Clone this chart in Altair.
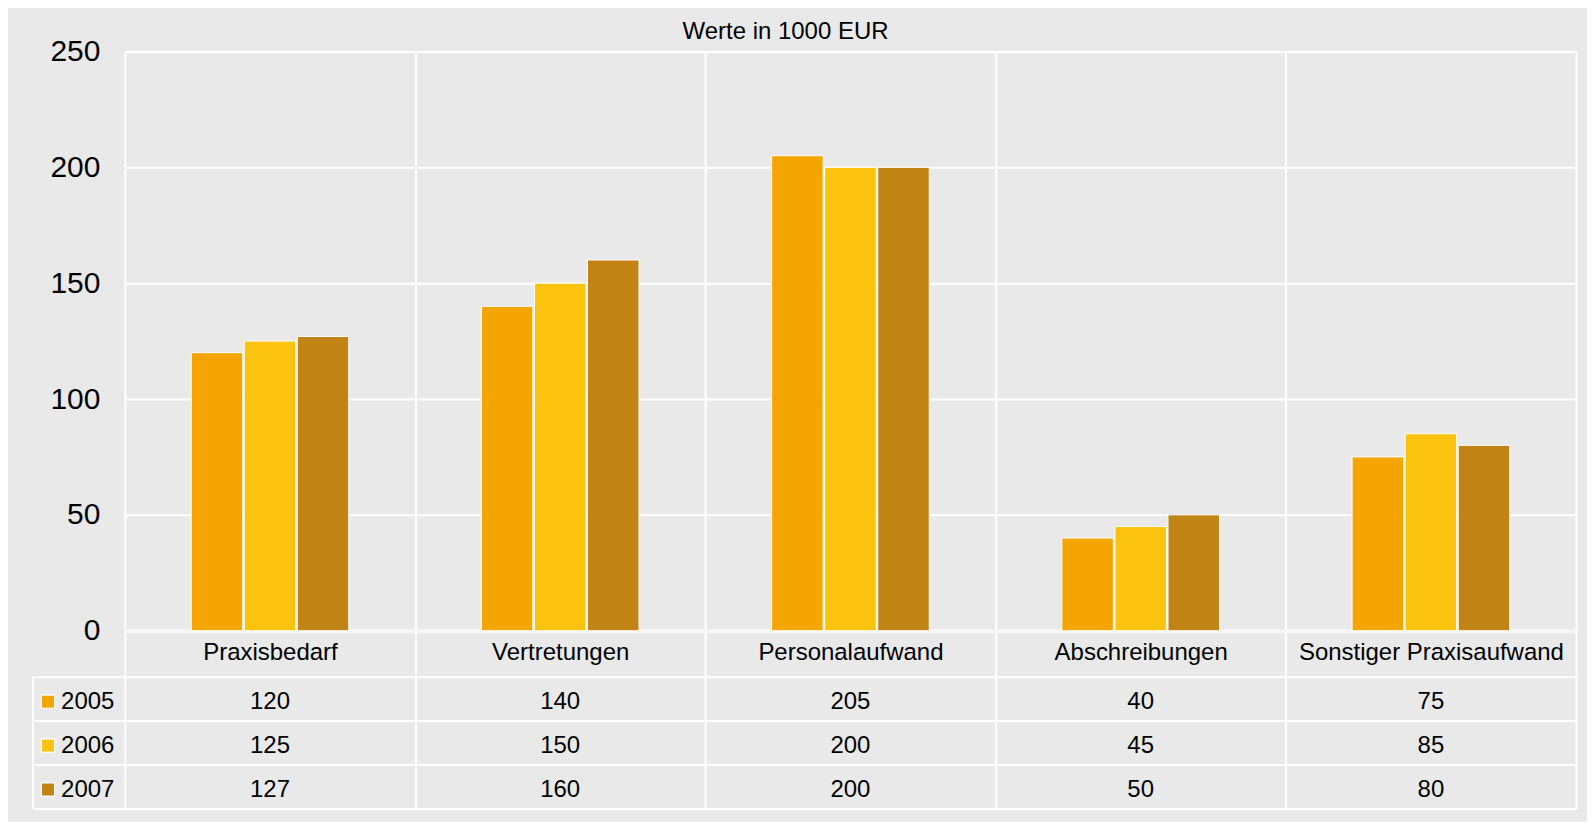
import altair as alt
import pandas as pd

categories = ["Praxisbedarf", "Vertretungen", "Personalaufwand", "Abschreibungen", "Sonstiger Praxisaufwand"]
years = ["2005", "2006", "2007"]
v2005 = [120, 140, 205, 40, 75]
v2006 = [125, 150, 200, 45, 85]
v2007 = [127, 160, 200, 50, 80]
colors = ["#f5a500", "#fbc30d", "#c08314"]
title_text = "Werte in 1000 EUR"

rows = []
for yr, vals in zip(years, [v2005, v2006, v2007]):
    for c, v in zip(categories, vals):
        rows.append({"Kategorie": c, "Jahr": yr, "Wert": v})
df = pd.DataFrame(rows)

FONT = "Liberation Sans"
W = 1453
H_BAR = 580
H_TAB = 132
ROW_H = H_TAB / len(years)
BG = "#e8e9e8"

xscale = alt.Scale(domain=categories, paddingInner=0, paddingOuter=0)
color = alt.Color("Jahr:N", scale=alt.Scale(domain=years, range=colors), legend=None)

# empty slots on both sides of each group leave the gap between groups
offset_domain = ["_l"] + years + ["_r"]

bars = alt.Chart(df).mark_bar(stroke="white", strokeWidth=1).encode(
    x=alt.X("Kategorie:N", scale=xscale, sort=categories, title=None,
            axis=alt.Axis(labelAngle=0, labelFont=FONT, labelFontSize=24, labelColor="black",
                          labelLimit=0,
                          tickBand="extent", ticks=True, tickSize=45, tickColor="white", tickWidth=2,
                          grid=True, gridColor="white", gridWidth=2,
                          domain=True, domainColor="#f7f7f7", domainWidth=4,
                          labelPadding=-35, labelBaseline="top")),
    xOffset=alt.XOffset("Jahr:N", scale=alt.Scale(domain=offset_domain, paddingOuter=0.25, paddingInner=0.03)),
    y=alt.Y("Wert:Q", scale=alt.Scale(domain=[0, 250]), title=None,
            axis=alt.Axis(values=[0, 50, 100, 150, 200, 250], labelFont=FONT, labelFontSize=30,
                          labelColor="black", ticks=False, domain=False, grid=True,
                          gridColor="white", gridWidth=2, labelPadding=25)),
    color=color,
).properties(
    width=W, height=H_BAR,
    title=alt.TitleParams(title_text, font=FONT, fontSize=24, fontWeight="normal", color="black",
                          anchor="middle", dx=-65, offset=-8),
)

base_t = alt.Chart(df)
texts = base_t.mark_text(font=FONT, fontSize=24, color="black", baseline="middle", dy=3).encode(
    x=alt.X("Kategorie:N", scale=xscale, sort=categories, title=None,
            axis=alt.Axis(labels=False, ticks=False, domain=False, grid=True, tickBand="extent",
                          gridColor="white", gridWidth=2, orient="bottom")),
    y=alt.Y("Jahr:N", scale=alt.Scale(domain=years, paddingInner=0, paddingOuter=0), title=None,
            axis=alt.Axis(labelFont=FONT, labelFontSize=24, labelColor="black",
                          tickBand="extent", ticks=True, tickSize=92, tickColor="white", tickWidth=2,
                          grid=True, gridColor="white", gridWidth=2, domain=False,
                          labelPadding=-81, labelOffset=3)),
    text=alt.Text("Wert:Q"),
)
squares = base_t.mark_square(size=170, opacity=1, stroke="white", strokeWidth=1).encode(
    x=alt.value(-77),
    y=alt.Y("Jahr:N", scale=alt.Scale(domain=years, paddingInner=0, paddingOuter=0)),
    yOffset=alt.value(ROW_H / 2 + 3),
    color=color,
)
left_border = alt.Chart(pd.DataFrame({"k": [0]})).mark_rule(color="white", strokeWidth=2).encode(
    x=alt.value(-92), y=alt.value(0), y2=alt.value(H_TAB)
)
table = alt.layer(texts, squares, left_border).properties(width=W, height=H_TAB)

chart = alt.vconcat(bars, table, spacing=-13).properties(
    background=BG,
    padding={"left": 24, "top": 12, "right": 10, "bottom": 12},
).configure_view(stroke=None)

chart.save("out.html", embed_options={"renderer": "svg", "actions": False})
